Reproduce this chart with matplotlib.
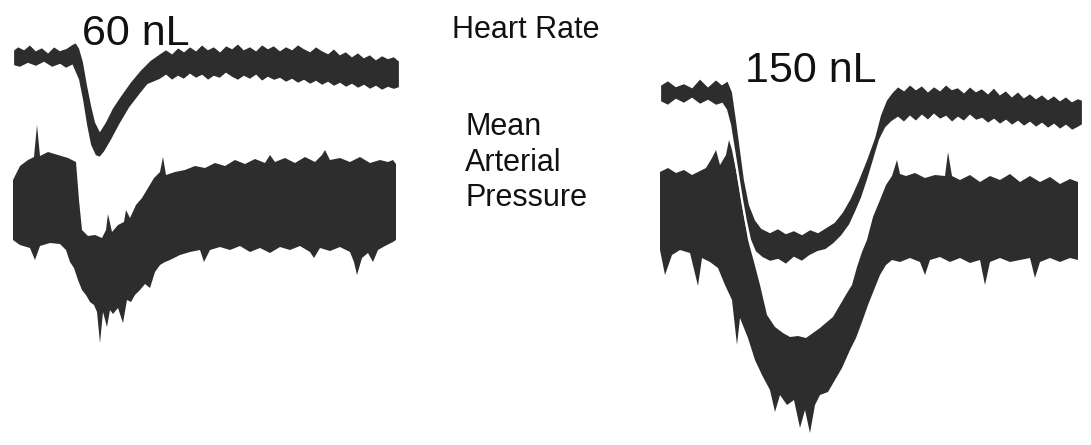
import numpy as np
import matplotlib.pyplot as plt

plt.rcParams['font.family'] = ['Liberation Sans', 'DejaVu Sans']

# traces (x position, y envelope in image pixels, y grows downward)
# 60 nL - heart rate band
hr60_up_x = [13, 18, 24, 30, 36, 42, 48, 54, 60, 66, 72, 76, 80, 84, 88, 92, 96, 100, 105, 112, 120, 130,
             140, 150, 160, 166, 172, 178, 184, 190, 196, 202, 208, 214, 220, 226, 232, 238, 244, 250, 256,
             262, 268, 274, 280, 286, 292, 298, 304, 310, 316, 322, 328, 334, 340, 346, 352, 358, 364, 370,
             376, 382, 388, 394, 400]
hr60_up_y = [50, 46, 49, 44, 50, 47, 52, 46, 50, 48, 44, 42, 48, 62, 85, 105, 122, 130, 122, 108, 96, 82,
             70, 60, 53, 49, 53, 47, 51, 46, 50, 44, 49, 46, 51, 45, 48, 43, 49, 46, 50, 44, 48, 45, 50,
             46, 49, 44, 48, 51, 46, 50, 53, 48, 54, 51, 56, 52, 57, 54, 59, 55, 58, 56, 61]
hr60_lo_x = [13, 20, 28, 36, 44, 52, 60, 66, 72, 78, 82, 86, 90, 95, 100, 105, 112, 120, 130, 140, 148,
             160, 166, 172, 178, 184, 190, 196, 202, 208, 214, 220, 226, 232, 238, 244, 250, 256, 262, 268,
             274, 280, 286, 292, 298, 304, 310, 316, 322, 328, 334, 340, 346, 352, 358, 364, 370, 376, 382,
             388, 394, 400]
hr60_lo_y = [66, 68, 64, 67, 63, 68, 65, 69, 66, 80, 100, 125, 145, 156, 158, 152, 140, 125, 108, 95, 85,
             80, 76, 81, 77, 80, 75, 79, 76, 81, 77, 79, 74, 78, 81, 77, 80, 76, 82, 78, 81, 79, 83, 80,
             84, 81, 85, 82, 86, 83, 87, 84, 88, 85, 89, 86, 90, 87, 91, 88, 90, 88]

# 60 nL - mean arterial pressure band
map60_up_x = [13, 20, 28, 34, 37, 40, 48, 58, 68, 76, 79, 82, 88, 95, 102, 106, 108, 112, 118, 124, 126,
              130, 136, 142, 148, 154, 160, 163, 166, 175, 185, 195, 205, 215, 225, 235, 245, 255, 265, 270,
              275, 285, 295, 305, 315, 322, 325, 330, 340, 350, 360, 370, 380, 388, 393, 396]
map60_up_y = [180, 166, 160, 157, 125, 156, 152, 155, 158, 162, 200, 230, 236, 235, 238, 230, 214, 232, 225,
              222, 210, 218, 205, 198, 188, 178, 172, 157, 175, 172, 170, 166, 168, 163, 166, 160, 164, 159,
              163, 155, 162, 158, 163, 157, 162, 155, 150, 160, 158, 162, 157, 163, 160, 162, 160, 164]
map60_lo_x = [13, 20, 30, 35, 40, 50, 60, 66, 70, 74, 78, 82, 86, 90, 94, 97, 100, 103, 107, 110, 113, 118,
              123, 127, 131, 135, 140, 145, 150, 155, 160, 165, 170, 180, 190, 200, 204, 210, 220, 230, 240,
              250, 260, 270, 280, 290, 300, 310, 314, 320, 330, 340, 350, 354, 357, 362, 368, 373, 378, 385,
              393, 396]
map60_lo_y = [240, 245, 248, 260, 246, 243, 244, 250, 262, 268, 280, 290, 295, 302, 305, 312, 343, 312, 327,
              310, 314, 308, 323, 300, 302, 295, 290, 284, 288, 272, 265, 262, 260, 255, 252, 250, 262, 250,
              247, 250, 246, 252, 248, 253, 247, 250, 246, 252, 258, 248, 251, 247, 252, 262, 275, 258, 253,
              262, 250, 246, 242, 240]

# 150 nL - heart rate band
hr150_up_x = [660, 668, 676, 684, 692, 700, 708, 716, 722, 728, 733, 737, 741, 745, 750, 756, 762, 770, 778,
              786, 794, 802, 810, 818, 826, 834, 842, 850, 858, 866, 874, 880, 886, 892, 898, 904, 910, 916,
              922, 928, 934, 940, 946, 952, 958, 964, 970, 976, 982, 988, 994, 1000, 1006, 1012, 1018, 1024,
              1030, 1036, 1042, 1048, 1054, 1060, 1066, 1072, 1078, 1083]
hr150_up_y = [85, 80, 86, 83, 87, 78, 86, 79, 84, 80, 92, 120, 150, 180, 205, 220, 228, 232, 228,
              233, 230, 234, 229, 232, 227, 222, 212, 198, 180, 160, 138, 115, 100, 92, 86, 90, 84, 89,
              85, 91, 86, 90, 84, 89, 87, 92, 86, 91, 88, 93, 87, 94, 90, 96, 91, 97, 93, 98, 94, 99,
              95, 100, 96, 101, 98, 100]
hr150_lo_x = [660, 668, 676, 684, 692, 700, 708, 716, 722, 726, 730, 734, 738, 742, 746, 750, 755, 762, 770,
              778, 786, 794, 802, 810, 818, 826, 834, 842, 850, 856, 862, 868, 874, 880, 886, 892, 898, 904,
              910, 916, 922, 928, 934, 940, 946, 952, 958, 964, 970, 976, 982, 988, 994, 1000, 1006, 1012,
              1018, 1024, 1030, 1036, 1042, 1048, 1054, 1060, 1066, 1072, 1078, 1083]
hr150_lo_y = [102, 106, 100, 104, 99, 105, 101, 106, 104, 110, 125, 150, 175, 200, 222, 240, 252, 258, 262,
              260, 265, 258, 262, 256, 252, 250, 244, 236, 225, 212, 198, 180, 160, 140, 128, 122, 118, 123,
              117, 122, 116, 121, 115, 120, 117, 123, 118, 122, 116, 121, 119, 124, 120, 125, 121, 126, 122,
              127, 123, 128, 124, 129, 125, 130, 126, 131, 128, 125]

# 150 nL - mean arterial pressure band
map150_up_x = [660, 668, 676, 684, 692, 700, 706, 712, 716, 720, 726, 729, 732, 736, 742, 748, 754, 760, 767,
               775, 783, 790, 798, 806, 813, 820, 827, 833, 840, 847, 852, 857, 862, 867, 873, 880, 886, 892,
               897, 900, 906, 915, 925, 935, 945, 948, 952, 960, 970, 980, 990, 1000, 1010, 1020, 1030, 1040,
               1050, 1060, 1070, 1078]
map150_up_y = [172, 168, 173, 170, 175, 171, 168, 158, 150, 165, 155, 140, 150, 170, 205, 240, 262, 285, 315,
               327, 333, 337, 336, 338, 333, 328, 322, 317, 305, 293, 285, 267, 252, 240, 217, 200, 185, 176,
               160, 174, 176, 173, 178, 175, 176, 152, 176, 180, 175, 182, 176, 180, 174, 182, 176, 182,
               177, 184, 179, 182]
map150_lo_x = [660, 665, 672, 680, 690, 698, 702, 710, 718, 725, 732, 737, 740, 748, 755, 762, 770, 775, 780,
               787, 794, 800, 805, 810, 815, 820, 828, 835, 842, 850, 856, 862, 868, 874, 880, 886, 892, 900,
               910, 920, 925, 930, 940, 950, 960, 970, 980, 985, 990, 1000, 1010, 1020, 1030, 1035, 1040,
               1050, 1060, 1070, 1078]
map150_lo_y = [250, 275, 255, 250, 253, 286, 258, 262, 268, 285, 300, 345, 318, 338, 360, 375, 390, 412, 395,
               405, 400, 428, 410, 433, 405, 395, 392, 380, 368, 350, 338, 322, 305, 290, 275, 265, 260, 262,
               258, 262, 275, 260, 257, 262, 258, 263, 260, 285, 262, 258, 262, 260, 258, 278, 262,
               258, 262, 258, 260]

dose_labels = ["60 nL", "150 nL"]
trace_labels = ["Heart Rate", "Mean", "Arterial", "Pressure"]

INK = "#2d2d2d"


def band(ax, up_x, up_y, lo_x, lo_y, edge="none"):
    xs = np.concatenate([up_x, lo_x[::-1]])
    ys = np.concatenate([up_y, lo_y[::-1]])
    ax.fill(xs, ys, facecolor=INK, edgecolor=edge, linewidth=1.6 if edge != "none" else 0)


def main():
    fig = plt.figure(figsize=(10.91, 4.45), dpi=100)
    ax = fig.add_axes([0, 0, 1, 1])
    ax.set_xlim(0, 1091)
    ax.set_ylim(445, 0)
    ax.axis("off")

    band(ax, map60_up_x, map60_up_y, map60_lo_x, map60_lo_y)
    band(ax, hr60_up_x, hr60_up_y, hr60_lo_x, hr60_lo_y, edge="white")
    band(ax, map150_up_x, map150_up_y, map150_lo_x, map150_lo_y)
    band(ax, hr150_up_x, hr150_up_y, hr150_lo_x, hr150_lo_y, edge="white")

    ax.text(82, 45, dose_labels[0], fontsize=31, color="#111111", va="baseline", ha="left")
    ax.text(745, 82, dose_labels[1], fontsize=31, color="#111111", va="baseline", ha="left")
    ax.text(452, 38, trace_labels[0], fontsize=22, color="#111111", va="baseline", ha="left")
    for label, base in zip(trace_labels[1:], [135, 171, 206]):
        ax.text(465, base, label, fontsize=22, color="#111111", va="baseline", ha="left")

    fig.savefig("out.png", dpi=100, facecolor="white")


if __name__ == "__main__":
    main()
